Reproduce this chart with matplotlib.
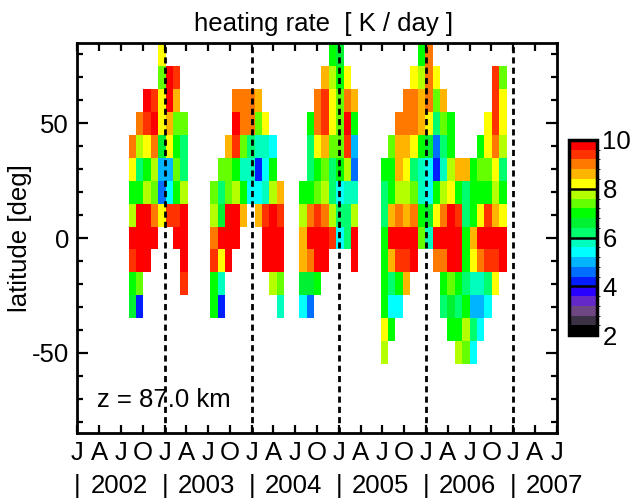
import numpy as np
import matplotlib
matplotlib.use("Agg")
import matplotlib.pyplot as plt
from matplotlib.colors import ListedColormap, BoundaryNorm

plt.rcParams['font.family'] = ['Liberation Sans', 'DejaVu Sans']
plt.rcParams['axes.unicode_minus'] = False
FS = 18.5

# latitude bin centres [deg]
lats = np.arange(-50, 90, 10)
# time bins of ~31 days, bin 0 starts at 2003.012
bin0 = 2003.012
binw = 0.0851
kfirst, klast = -5, 45

# heating rate [K/day]: {latitude: {bin: value}}
heat = {
    80: {-1: 8.2, 22: 7.0, 23: 6.6, 34: 7.0, 35: 9.0},
    70: {-1: 7.4, 0: 9.8, 1: 9.4, 21: 8.6, 22: 7.8, 23: 7.0, 24: 8.2,
         33: 8.2, 34: 7.8, 35: 9.0, 36: 8.2, 44: 9.4, 45: 7.4},
    60: {-3: 9.8, -2: 9.4, -1: 8.2, 0: 9.8, 1: 8.6,
         9: 9.0, 10: 9.0, 11: 9.0, 12: 8.6,
         20: 9.0, 21: 9.4, 22: 8.2, 23: 7.4, 24: 9.0, 25: 8.6,
         32: 9.0, 33: 9.0, 34: 8.6, 35: 9.0, 36: 7.4, 37: 8.6, 44: 9.4, 45: 8.2},
    50: {-4: 9.0, -3: 9.4, -2: 9.8, -1: 8.2, 0: 8.6, 1: 7.4, 2: 7.4,
         9: 9.8, 10: 9.0, 11: 9.0, 12: 7.4, 13: 8.2,
         19: 7.0, 20: 9.0, 21: 9.4, 22: 8.2, 23: 7.4, 24: 9.8, 25: 7.0,
         31: 9.0, 32: 9.0, 33: 9.0, 34: 8.6, 35: 8.2, 36: 6.2, 37: 7.4, 38: 7.0,
         43: 8.2, 44: 9.4, 45: 8.2},
    40: {-5: 9.0, -4: 7.8, -3: 8.2, -2: 9.0, -1: 6.6, 0: 8.2, 1: 7.0, 2: 6.2,
         8: 8.6, 9: 9.4, 10: 7.4, 11: 6.2, 12: 5.8, 13: 5.8, 14: 5.4,
         19: 6.2, 20: 8.2, 21: 8.6, 22: 7.4, 23: 7.4, 24: 9.4, 25: 5.0,
         30: 7.4, 31: 8.6, 32: 8.6, 33: 8.2, 34: 7.0, 35: 6.6, 36: 4.6, 37: 6.2, 38: 7.0,
         42: 7.0, 43: 8.2, 44: 9.0, 45: 7.8},
    30: {-5: 8.2, -4: 6.2, -3: 7.0, -2: 7.8, -1: 5.0, 0: 5.0, 1: 7.4, 2: 6.2,
         7: 7.4, 8: 7.4, 9: 7.0, 10: 5.8, 11: 5.8, 12: 4.2, 13: 5.4, 14: 7.0,
         19: 6.2, 20: 7.0, 21: 7.4, 22: 6.2, 23: 7.0, 24: 7.8, 25: 4.6,
         29: 7.0, 30: 7.0, 31: 8.6, 32: 8.2, 33: 6.2, 34: 5.8, 35: 5.4, 36: 4.2,
         37: 5.8, 38: 7.8, 39: 8.6, 40: 8.6, 41: 7.0, 42: 7.4, 43: 7.4, 44: 8.2, 45: 6.2},
    20: {-5: 7.0, -4: 7.0, -3: 7.8, -2: 7.4, -1: 4.6, 0: 5.4, 1: 7.0, 2: 7.8,
         6: 7.4, 7: 6.2, 8: 7.4, 9: 7.8, 10: 7.0, 11: 5.4, 12: 5.4, 13: 5.8, 14: 7.8, 15: 8.6,
         18: 7.0, 19: 7.0, 20: 7.4, 21: 7.8, 22: 6.2, 23: 5.4, 24: 5.8, 25: 5.8,
         29: 6.2, 30: 7.0, 31: 7.8, 32: 7.8, 33: 7.4, 34: 5.8, 35: 5.4, 36: 7.0,
         37: 7.8, 38: 8.2, 39: 7.0, 40: 6.2, 41: 7.0, 42: 7.0, 43: 7.0, 44: 7.8, 45: 7.0},
    10: {-5: 7.8, -4: 9.8, -3: 9.8, -2: 9.0, -1: 8.2, 0: 9.4, 1: 9.4, 2: 9.8,
         6: 7.8, 7: 6.6, 8: 9.8, 9: 9.8, 10: 8.6, 12: 8.6, 13: 9.4, 14: 9.8, 15: 9.4,
         18: 7.8, 19: 9.0, 20: 9.4, 21: 9.0, 22: 7.8, 23: 6.2, 24: 6.2, 25: 7.8,
         29: 6.2, 30: 8.6, 31: 9.0, 32: 8.6, 33: 9.0, 34: 7.0, 35: 6.6, 36: 8.2,
         37: 9.0, 38: 9.8, 39: 9.4, 40: 6.2, 41: 7.0, 42: 8.2, 43: 9.4, 44: 8.6, 45: 8.2},
    0: {-5: 9.8, -4: 9.8, -3: 9.8, -2: 9.8, 1: 9.8, 2: 9.8,
        6: 9.0, 7: 9.8, 8: 9.8, 9: 9.8, 13: 9.8, 14: 9.8, 15: 9.8,
        18: 8.6, 19: 9.8, 20: 9.8, 21: 9.8, 22: 9.4, 23: 5.4, 24: 6.2, 25: 9.8,
        29: 7.0, 30: 9.8, 31: 9.8, 32: 9.8, 33: 9.8, 34: 7.4, 35: 5.8, 36: 9.8,
        37: 9.8, 38: 9.8, 39: 9.8, 40: 7.0, 41: 8.6, 42: 9.8, 43: 9.8, 44: 9.8, 45: 9.8},
    -10: {-5: 9.4, -4: 9.8, -3: 9.8, 2: 9.8,
          6: 9.4, 7: 8.2, 8: 9.8, 13: 9.8, 14: 9.8, 15: 9.8,
          18: 8.6, 19: 9.0, 20: 9.8, 21: 9.8, 25: 9.8,
          29: 7.0, 30: 8.6, 31: 9.4, 32: 9.4, 33: 9.8, 36: 9.0, 37: 9.0, 38: 9.8,
          39: 9.8, 40: 7.0, 41: 8.2, 42: 9.0, 43: 9.4, 44: 9.4, 45: 9.8},
    -20: {-5: 7.0, -4: 7.4, 2: 9.4, 6: 7.0, 7: 5.8, 14: 7.8, 15: 7.4,
          18: 6.6, 19: 6.6, 20: 7.0,
          29: 7.0, 30: 6.2, 31: 7.0, 32: 8.6, 37: 7.0, 38: 7.4, 39: 7.0, 40: 6.2,
          41: 5.8, 42: 5.8, 43: 6.2, 44: 8.2},
    -30: {-5: 6.6, -4: 4.2, 6: 7.0, 7: 4.2, 15: 5.8, 18: 5.4, 19: 4.6,
          29: 7.0, 30: 5.4, 31: 5.4, 37: 6.2, 38: 6.6, 39: 6.2, 40: 7.0,
          41: 5.0, 42: 5.0, 43: 5.4},
    -40: {29: 8.2, 30: 7.0, 38: 7.0, 39: 7.0, 40: 7.8, 41: 6.2, 42: 5.4},
    -50: {29: 7.8, 39: 7.8, 40: 7.4, 41: 5.4},
}

# colour bar: 20 levels of 0.4 K/day from 2 to 10
levels = np.linspace(2, 10, 21)
level_colors = ['#000000', '#3c3246', '#6e4682', '#6428c8', '#2800ff',
                '#001eff', '#006eff', '#00b4ff', '#00ffff', '#00ffbe',
                '#00ff6e', '#00f032', '#00ff00', '#64ff00', '#b4ff00',
                '#ffff00', '#ffb400', '#ff7800', '#ff3200', '#ff0000']
cmap = ListedColormap(level_colors)
norm = BoundaryNorm(levels, cmap.N)

ks = np.arange(kfirst, klast + 1)
Z = np.full((len(lats), len(ks)), np.nan)
for i, la in enumerate(lats):
    for k, v in heat.get(int(la), {}).items():
        Z[i, k - kfirst] = v
Z = np.ma.masked_invalid(Z)
xedges = bin0 + binw * np.arange(kfirst, klast + 2)
yedges = np.arange(-55, 95, 10)

fig = plt.figure(figsize=(6.35, 4.98), dpi=100)
ax = fig.add_axes([0.122, 0.1305, 0.7546, 0.7831])
mesh = ax.pcolormesh(xedges, yedges, Z, cmap=cmap, norm=norm)

for yr in range(2003, 2008):
    ax.axvline(yr, color='black', lw=2, ls=(0, (2.2, 1.5)))

ax.set_xlim(2002, 2007.5)
ax.set_ylim(-85, 85)
qt = np.arange(2002, 2007.51, 0.25)
ax.set_xticks(qt)
ax.set_xticklabels((['J', 'A', 'J', 'O'] * 6)[:len(qt)])
ax.set_yticks([-50, 0, 50])
ax.set_yticks(np.arange(-80, 90, 10), minor=True)
ax.tick_params(labelsize=FS)
ax.tick_params(axis='both', which='both', direction='in', top=True, right=True, width=1.6)
ax.tick_params(axis='x', which='major', length=6, pad=6)
ax.tick_params(axis='y', which='major', length=8, pad=6)
ax.tick_params(axis='y', which='minor', length=4)
for s in ax.spines.values():
    s.set_linewidth(2)

ax.set_ylabel('latitude [deg]', fontsize=FS)
ax.yaxis.set_label_coords(-0.095, 0.5)
ax.set_title('heating rate  [ K / day ]', fontsize=FS, pad=9, x=0.514)
ax.text(0.04, 0.085, 'z = 87.0 km', transform=ax.transAxes, fontsize=FS, va='center')

trans = ax.get_xaxis_transform()
for yr in range(2002, 2008):
    ax.text(yr, -0.135, '|', transform=trans, fontsize=FS, ha='center', va='center')
    ax.text(yr + 0.48, -0.135, str(yr), transform=trans, fontsize=FS, ha='center', va='center')

cax = fig.add_axes([0.896, 0.327, 0.044, 0.392])
cb = fig.colorbar(mesh, cax=cax, ticks=[2, 4, 6, 8, 10])
cb.outline.set_linewidth(2.5)
cax.tick_params(length=0, labelsize=FS, pad=4)
for v in (4, 6, 8):
    cax.axhline(v, color='black', lw=1.8)

fig.savefig('out.png', dpi=100)
